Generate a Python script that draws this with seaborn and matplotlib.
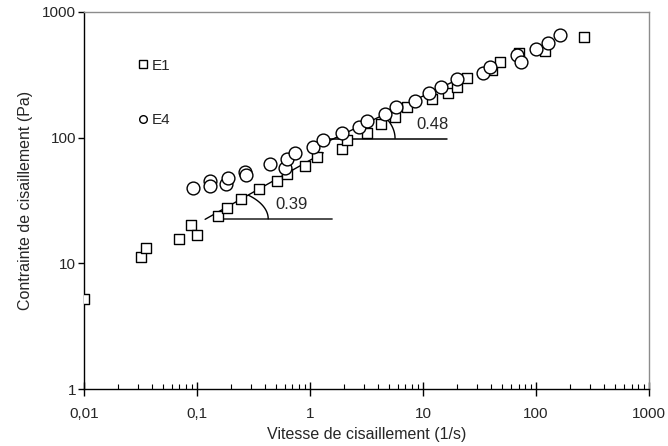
import numpy as np
import matplotlib
matplotlib.use('Agg')
import matplotlib.pyplot as plt
import seaborn as sns
from matplotlib.lines import Line2D

# E1 (carres)
e1_x = [0.01, 0.0318, 0.0354, 0.0697, 0.0891, 0.0994, 0.153, 0.185, 0.244, 0.356,
        0.507, 0.629, 0.897, 1.16, 1.92, 2.11, 3.21, 4.28, 5.69, 7.17,
        12.0, 16.6, 19.9, 24.4, 40.8, 48.0, 71.2, 121, 266]
e1_y = [5.23, 11.2, 13.2, 15.7, 20.1, 16.9, 23.8, 27.5, 32.7, 38.8,
        44.9, 51.3, 59.4, 70.5, 81.6, 95.7, 108, 128, 145, 174,
        202, 228, 254, 298, 345, 399, 474, 491, 628]

# E4 (cercles)
e4_x = [0.0916, 0.130, 0.130, 0.180, 0.188, 0.264, 0.271, 0.442, 0.597, 0.629,
        0.741, 1.056, 1.31, 1.92, 2.73, 3.21, 4.64, 5.77, 8.55, 11.2,
        14.5, 20.1, 34.2, 39.2, 68.4, 74.1, 100, 128, 163]
e4_y = [39.7, 45.4, 41.2, 42.7, 47.7, 53.2, 50.1, 61.7, 57.3, 68.0,
        75.9, 84.7, 95.7, 109, 121, 136, 154, 174, 197, 225,
        251, 294, 325, 367, 451, 399, 504, 569, 651]

# droites de pente (bouts)
fit1_x = [0.118, 1.31]
fit1_y = [22.4, 75.8]
hor1_x = [0.153, 1.57]
hor1_y = [22.6, 22.6]
fit2_x = [1.04, 23.5]
fit2_y = [81.2, 309]
hor2_x = [1.18, 16.3]
hor2_y = [98.0, 98.0]
slope_labels = ['0.39', '0.48']

xticks = [0.01, 0.1, 1, 10, 100, 1000]
xtick_labels = ['0,01', '0,1', '1', '10', '100', '1000']
yticks = [1, 10, 100, 1000]
ytick_labels = ['1', '10', '100', '1000']


def arc(ax, cx, cy, a, b, t1):
    # arc en coordonnees log (a, b en decades)
    t = np.linspace(0, np.radians(t1), 40)
    xs = 10 ** (np.log10(cx) + a * np.cos(t))
    ys = 10 ** (np.log10(cy) + b * np.sin(t))
    ax.plot(xs, ys, color='black', lw=1)


sns.set_style('white')
plt.rcParams['font.family'] = ['Liberation Sans', 'DejaVu Sans']

fig = plt.figure(figsize=(6.68, 4.46), dpi=100)
ax = fig.add_axes([0.1257, 0.1278, 0.8459, 0.8453])
ax.set_xscale('log')
ax.set_yscale('log')

ax.plot(fit1_x, fit1_y, color='black', lw=1)
ax.plot(hor1_x, hor1_y, color='#404040', lw=1.3)
ax.plot(fit2_x, fit2_y, color='black', lw=1)
ax.plot(hor2_x, hor2_y, color='black', lw=1.1)
arc(ax, 0.120, 22.6, 0.551, 0.257, 47)
arc(ax, 1.62, 98.7, 0.543, 0.31, 37)

sns.scatterplot(x=e1_x, y=e1_y, marker='s', s=55, color='white',
                edgecolor='black', linewidth=1, ax=ax, legend=False, zorder=3)
sns.scatterplot(x=e4_x, y=e4_y, marker='o', s=85, color='white',
                edgecolor='black', linewidth=1, ax=ax, legend=False, zorder=4)

ax.text(0.686, 29.6, slope_labels[0], fontsize=12, ha='center', va='center')
ax.text(12.1, 128, slope_labels[1], fontsize=12, ha='center', va='center')

ax.set_xlim(0.01, 1000)
ax.set_ylim(1, 1000)
ax.set_xticks(xticks)
ax.set_xticklabels(xtick_labels)
ax.set_yticks(yticks)
ax.set_yticklabels(ytick_labels)
ax.yaxis.set_minor_locator(matplotlib.ticker.NullLocator())
ax.tick_params(axis='x', which='major', direction='inout', length=10, width=1,
               labelsize=11, color='black', bottom=True, pad=8)
ax.tick_params(axis='x', which='minor', direction='in', length=3.5, width=0.8,
               color='black', bottom=True)
ax.tick_params(axis='y', which='major', direction='out', length=4, width=1,
               labelsize=11, color='black', left=True, pad=1.5)

for s in ['left', 'bottom']:
    ax.spines[s].set_color('black')
    ax.spines[s].set_linewidth(1)
for s in ['top', 'right']:
    ax.spines[s].set_color('#8c8c8c')
    ax.spines[s].set_linewidth(1)

ax.set_xlabel('Vitesse de cisaillement (1/s)', fontsize=11.5, labelpad=4.5)
ax.set_ylabel('Contrainte de cisaillement (Pa)', fontsize=11.5, labelpad=7)

handles = [Line2D([], [], ls='', marker='s', ms=5.5, mfc='white', mec='black', mew=1),
           Line2D([], [], ls='', marker='o', ms=5.5, mfc='white', mec='black', mew=1)]
ax.legend(handles, ['E1', 'E4'], loc='upper left', bbox_to_anchor=(0.072, 0.913),
          frameon=False, fontsize=11, handlelength=0.6, handletextpad=0.3,
          labelspacing=2.66)

fig.savefig('out.png', dpi=100)
